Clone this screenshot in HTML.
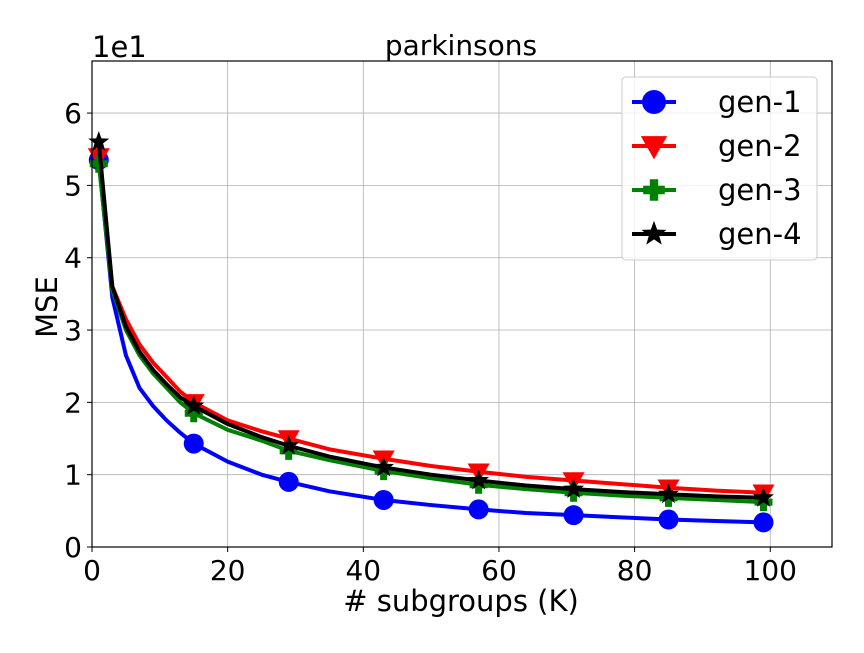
<!DOCTYPE html>
<html><head><meta charset="utf-8"><style>
body{margin:0;background:#fff}
svg text{font-family:"DejaVu Sans","Liberation Sans",sans-serif;fill:#000}
</style></head><body>
<svg id="chart" width="864" height="648" viewBox="0 0 864 648" xmlns="http://www.w3.org/2000/svg">
<g id="grid"></g>
<g id="series"></g>
<g id="axes"></g>
<text x="461" y="55" font-size="28" text-anchor="middle">parkinsons</text>
<text x="92" y="57" font-size="29">1e1</text>
<text x="461" y="611" font-size="29" text-anchor="middle"># subgroups (K)</text>
<text x="57" y="307" font-size="29" text-anchor="middle" transform="rotate(-90 57 307)">MSE</text>
<g id="legend"></g>
</svg>
<script>
const kValues=[1,3,5,7,9,11,13,15,20,25,29,35,43,50,57,64,71,78,85,92,99];
const gen1=[5.35,3.45,2.65,2.2,1.95,1.75,1.58,1.43,1.18,1.0,0.9,0.77,0.65,0.58,0.52,0.47,0.44,0.41,0.38,0.36,0.34];
const gen2=[5.4,3.6,3.15,2.8,2.55,2.35,2.15,2.0,1.75,1.6,1.5,1.35,1.22,1.12,1.04,0.97,0.92,0.87,0.82,0.78,0.75];
const gen3=[5.3,3.55,3.0,2.65,2.4,2.2,2.0,1.85,1.62,1.47,1.33,1.2,1.05,0.95,0.86,0.8,0.75,0.71,0.68,0.65,0.62];
const gen4=[5.6,3.6,3.05,2.7,2.45,2.25,2.07,1.95,1.7,1.52,1.4,1.25,1.1,1.0,0.92,0.85,0.8,0.76,0.73,0.7,0.68];
const markerK=[1,15,29,43,57,71,85,99];
const xTicks=[0,20,40,60,80,100];
const yTicks=[0,1,2,3,4,5,6];
const seriesNames=["gen-1","gen-2","gen-3","gen-4"];

const NS="http://www.w3.org/2000/svg";
const L=92,R=832,T=61,B=547,XMAX=109.1,YMAX=6.72;
const xs=v=>L+v/XMAX*(R-L);
const ys=v=>B-v/YMAX*(B-T);
function mk(tag,attrs,parent){const e=document.createElementNS(NS,tag);for(const k in attrs)e.setAttribute(k,attrs[k]);parent.appendChild(e);return e;}
const grid=document.getElementById('grid'),axes=document.getElementById('axes'),ser=document.getElementById('series'),leg=document.getElementById('legend');
xTicks.forEach(t=>{
 const g=mk('line',{x1:xs(t),x2:xs(t),y1:T,y2:B,stroke:'#b0b0b0','stroke-width':0.8},grid);
 
 mk('line',{x1:xs(t),x2:xs(t),y1:B,y2:B+5,stroke:'#000','stroke-width':1},axes);
 const tx=mk('text',{x:xs(t),y:B+33,'font-size':28,'text-anchor':'middle'},axes);tx.textContent=t;
 
});
yTicks.forEach(t=>{
 const g=mk('line',{x1:L,x2:R,y1:ys(t),y2:ys(t),stroke:'#b0b0b0','stroke-width':0.8},grid);
 
 mk('line',{x1:L-5,x2:L,y1:ys(t),y2:ys(t),stroke:'#000','stroke-width':1},axes);
 const tx=mk('text',{x:L-10,y:ys(t)+10,'font-size':28,'text-anchor':'end'},axes);tx.textContent=t;
 
});
const frame=mk('rect',{x:L,y:T,width:R-L,height:B-T,fill:'none',stroke:'#000','stroke-width':1.2},axes);


function marker(type,cx,cy,color,parent,s){
 s=s||1;let e;
 if(type==='circle')e=mk('circle',{cx:cx,cy:cy,r:10*s,fill:color},parent);
 else if(type==='tri'){const r=11*s;e=mk('polygon',{points:`${cx-r},${cy-r*0.75} ${cx+r},${cy-r*0.75} ${cx},${cy+r}`,fill:color},parent);}
 else if(type==='plus'){const a=9*s,w=3.5*s;e=mk('path',{d:`M${cx-w},${cy-a}h${2*w}v${a-w}h${a-w}v${2*w}h${-(a-w)}v${a-w}h${-2*w}v${-(a-w)}h${-(a-w)}v${-2*w}h${a-w}z`,fill:color},parent);}
 else {const pts=[];for(let i=0;i<10;i++){const r=i%2?4.5*s:11*s;const a=-Math.PI/2+i*Math.PI/5;pts.push((cx+r*Math.cos(a))+','+(cy+r*Math.sin(a)));}e=mk('polygon',{points:pts.join(' '),fill:color},parent);}
 return e;
}
const defs=[{d:gen1,c:'#0000ff',m:'circle'},{d:gen2,c:'#ff0000',m:'tri'},{d:gen3,c:'#008000',m:'plus'},{d:gen4,c:'#000000',m:'star'}];
defs.forEach((s,si)=>{
 const g=mk('g',{},ser);
 
 
 const p=mk('polyline',{points:kValues.map((k,i)=>xs(k)+','+ys(s.d[i])).join(' '),fill:'none',stroke:s.c,'stroke-width':4,'stroke-linejoin':'round'},g);
 
 
 markerK.forEach(k=>{const i=kValues.indexOf(k);const m=marker(s.m,xs(k),ys(s.d[i]),s.c,g);
  
  });
});
const box=mk('rect',{x:622,y:77,width:195,height:183,rx:4,fill:'#fff','fill-opacity':0.8,stroke:'#ccc','stroke-width':1},leg);

defs.forEach((s,i)=>{
 const y=102+i*44;
 const g=mk('g',{},leg);
 
 
 mk('line',{x1:632,x2:676,y1:y,y2:y,stroke:s.c,'stroke-width':4},g);
 marker(s.m,654,y,s.c,g,1.2);
 const t=mk('text',{x:718,y:y+10,'font-size':29},g);t.textContent=seriesNames[i];
});
</script>
</body></html>
